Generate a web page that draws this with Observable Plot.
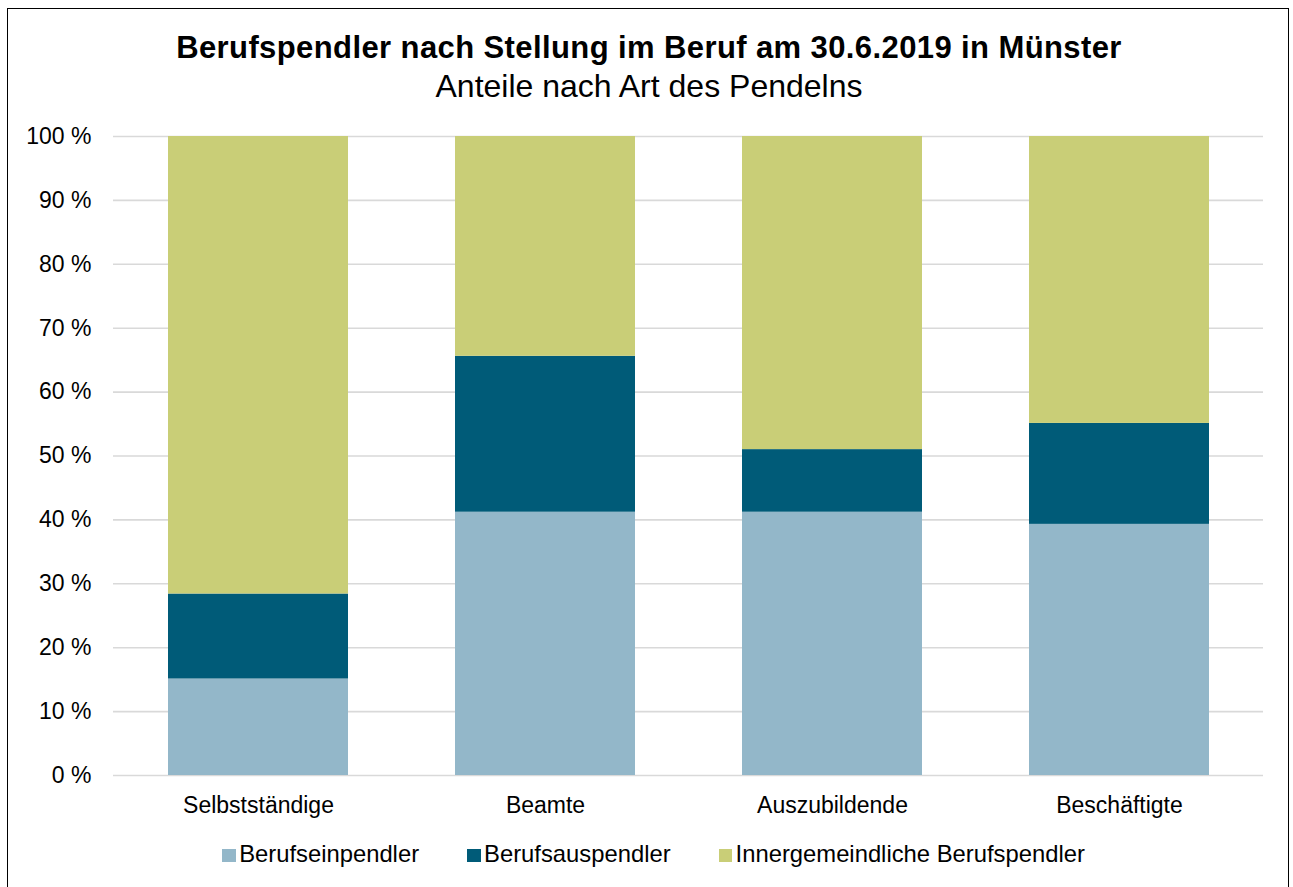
<!DOCTYPE html>
<html>
<head>
<meta charset="utf-8">
<script src="https://cdn.jsdelivr.net/npm/d3@7"></script>
<script src="https://cdn.jsdelivr.net/npm/@observablehq/plot@0.6"></script>
<style>
  html, body { margin: 0; padding: 0; background: #fff; }
  body { width: 1293px; height: 887px; position: relative; overflow: hidden; font-family: "Liberation Sans", Arial, sans-serif; color: #000; }
  #frame { position: absolute; left: 7px; top: 8px; width: 1282px; height: 900px; border: 1.5px solid #000; box-sizing: border-box; }
  .title { position: absolute; left: 0; width: 1298px; text-align: center; line-height: 1; white-space: nowrap; }
  #t1 { top: 32px; font-size: 31px; font-weight: bold; letter-spacing: 0.4px; }
  #t2 { top: 70px; font-size: 32px; }
  #chart { position: absolute; left: 0; top: 0; }
  #legend { position: absolute; left: 0; top: 842px; width: 1293px; padding-left: 14px; box-sizing: border-box; display: flex; justify-content: center; align-items: center; font-size: 23.8px; line-height: 1; white-space: nowrap; }
  .item { display: flex; align-items: center; margin: 0 24px; }
  .sw { width: 13.5px; height: 13.5px; margin-right: 3.5px; margin-top: 3px; }
</style>
</head>
<body>
<div id="frame"></div>
<div class="title" id="t1">Berufspendler nach Stellung im Beruf am 30.6.2019 in Münster</div>
<div class="title" id="t2">Anteile nach Art des Pendelns</div>
<div id="chart"></div>
<div id="legend"></div>
<script>
const categories = ["Selbstständige", "Beamte", "Auszubildende", "Beschäftigte"];
const seriesNames = ["Berufseinpendler", "Berufsauspendler", "Innergemeindliche Berufspendler"];
const einpendler = [15.1, 41.2, 41.2, 39.3];
const auspendler = [13.3, 24.4, 9.8, 15.8];
const innergemeindlich = [71.6, 34.4, 49.0, 44.9];
const seriesColors = ["#93b7c9", "#005b78", "#c9ce77"];
const yTicks = [0, 10, 20, 30, 40, 50, 60, 70, 80, 90, 100];

const seriesValues = [einpendler, auspendler, innergemeindlich];
const data = [];
seriesNames.forEach((s, si) => {
  categories.forEach((c, ci) => {
    data.push({ category: c, series: s, value: seriesValues[si][ci] });
  });
});

const chart = Plot.plot({
  width: 1293,
  height: 830,
  marginTop: 136,
  marginBottom: 55,
  marginLeft: 113,
  marginRight: 30,
  style: { fontFamily: "'Liberation Sans', Arial, sans-serif", fontSize: "23px", color: "#000", background: "transparent", overflow: "visible" },
  x: { domain: categories, paddingInner: 0.374, paddingOuter: 0.187, label: null, tickSize: 0, tickPadding: 21 },
  y: { domain: [0, 100], ticks: yTicks, label: null, tickSize: 0, tickPadding: 22, tickFormat: d => d + " %" },
  color: { domain: seriesNames, range: seriesColors },
  marks: [
    Plot.ruleY(yTicks, { stroke: "#d9d9d9", strokeWidth: 1.6 }),
    Plot.barY(data, { x: "category", y: "value", fill: "series", order: seriesNames }),
    Plot.axisX({ tickSize: 0, tickPadding: 21, label: null, fontSize: 23 }),
    Plot.axisY({ ticks: yTicks, tickSize: 0, tickPadding: 22, label: null, tickFormat: d => d + " %", fontSize: 23 })
  ]
});
document.getElementById("chart").appendChild(chart);

const legend = document.getElementById("legend");
seriesNames.forEach((s, i) => {
  const item = document.createElement("div");
  item.className = "item";
  const sw = document.createElement("div");
  sw.className = "sw";
  sw.style.background = seriesColors[i];
  const tx = document.createElement("span");
  tx.textContent = s;
  item.appendChild(sw);
  item.appendChild(tx);
  legend.appendChild(item);
});
</script>
</body>
</html>
